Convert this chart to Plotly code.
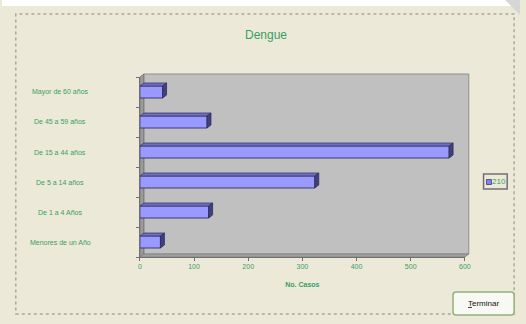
import plotly.graph_objects as go

# Dengue cases by age group (bottom to top)
categories = ["Menores de un Año", "De 1 a 4 Años", "De 5 a 14 años",
              "De 15 a 44 años", "De 45 a 59 años", "Mayor de 60 años"]
cases = [38, 127, 323, 571, 124, 42]
series_name = "210"
x_ticks = [0, 100, 200, 300, 400, 500, 600]

W, H = 526, 324
GREEN = "#3a9e64"
BEIGE = "#ECE9D8"

# plot area in pixels
PL, PR, PT, PB = 140, 470, 77, 257
DX, DY = 4, 3  # depth offset for the 3D look


def px(x):
    return x / W


def py(y):
    return 1 - y / H


x_range = [0, 600]
y_range = [-0.5, 5.5]
dxu = DX * (x_range[1] - x_range[0]) / (PR - PL)
dyu = DY * (y_range[1] - y_range[0]) / (PB - PT)
half = 0.2

fig = go.Figure()
fig.add_trace(go.Bar(
    x=cases, y=categories, orientation="h", width=2 * half,
    marker=dict(color="#9999FF", line=dict(color="#3b3b6e", width=1)),
    name=series_name, showlegend=False, hoverinfo="x+y",
))

shapes = []
# top white strip and corner of the window
shapes.append(dict(type="rect", xref="paper", yref="paper", x0=0, x1=1,
                   y0=py(6), y1=1, fillcolor="white", line_width=0, layer="below"))
shapes.append(dict(type="path", xref="paper", yref="paper",
                   path=f"M {px(511)},{py(0)} L {px(526)},{py(0)} L {px(526)},{py(15)} Z",
                   fillcolor="#d6d6d6", line_width=0, layer="below"))
# dotted frame
shapes.append(dict(type="rect", xref="paper", yref="paper", x0=px(14), x1=px(520),
                   y0=py(314), y1=py(14), line=dict(color="#a8a8a0", width=1.5, dash="dot"),
                   layer="below"))
# back wall, side wall and floor
shapes.append(dict(type="rect", xref="paper", yref="paper", x0=px(PL + DX), x1=px(PR + DX),
                   y0=py(PB - DY), y1=py(PT - DY), fillcolor="#c0c0c0",
                   line=dict(color="#909090", width=1), layer="below"))
shapes.append(dict(type="path", xref="paper", yref="paper",
                   path=(f"M {px(PL)},{py(PT)} L {px(PL + DX)},{py(PT - DY)} "
                         f"L {px(PL + DX)},{py(PB - DY)} L {px(PL)},{py(PB)} Z"),
                   fillcolor="#9a9a9a", line=dict(color="#707070", width=0.8), layer="below"))
shapes.append(dict(type="path", xref="paper", yref="paper",
                   path=(f"M {px(PL)},{py(PB)} L {px(PL + DX)},{py(PB - DY)} "
                         f"L {px(PR + DX)},{py(PB - DY)} L {px(PR)},{py(PB)} Z"),
                   fillcolor="#a0a0a0", line=dict(color="#808080", width=0.8), layer="below"))

# 3D faces of each bar
for i, v in enumerate(cases):
    top = (f"M 0,{i + half} L {v},{i + half} L {v + dxu},{i + half + dyu} "
           f"L {dxu},{i + half + dyu} Z")
    side = (f"M {v},{i - half} L {v},{i + half} L {v + dxu},{i + half + dyu} "
            f"L {v + dxu},{i - half + dyu} Z")
    shapes.append(dict(type="path", xref="x", yref="y", path=top,
                       fillcolor="#6e6ec4", line=dict(color="#3b3b6e", width=0.8)))
    shapes.append(dict(type="path", xref="x", yref="y", path=side,
                       fillcolor="#40407e", line=dict(color="#2e2e5a", width=0.8)))

# legend box
shapes.append(dict(type="rect", xref="paper", yref="paper", x0=px(489), x1=px(513),
                   y0=py(189), y1=py(174), line=dict(color="#707070", width=1.5)))
shapes.append(dict(type="rect", xref="paper", yref="paper", x0=px(492), x1=px(497),
                   y0=py(184.5), y1=py(179.5), fillcolor="#8080ff",
                   line=dict(color="#3b3b6e", width=0.8)))

# "Terminar" button
bx0, bx1, by0, by1, r = 458, 520, 292, 315, 3
btn = (f"M {px(bx0 + r)},{py(by0)} L {px(bx1 - r)},{py(by0)} "
       f"Q {px(bx1)},{py(by0)} {px(bx1)},{py(by0 + r)} L {px(bx1)},{py(by1 - r)} "
       f"Q {px(bx1)},{py(by1)} {px(bx1 - r)},{py(by1)} L {px(bx0 + r)},{py(by1)} "
       f"Q {px(bx0)},{py(by1)} {px(bx0)},{py(by1 - r)} L {px(bx0)},{py(by0 + r)} "
       f"Q {px(bx0)},{py(by0)} {px(bx0 + r)},{py(by0)} Z")
shapes.append(dict(type="path", xref="paper", yref="paper", path=btn,
                   fillcolor="#f9f9f4", line=dict(color="#93b07a", width=1.5)))

annotations = []
for c in categories:
    annotations.append(dict(x=px(59), y=c, xref="paper", yref="y", text=c,
                            showarrow=False, xanchor="center", yanchor="middle",
                            font=dict(family="Arial, Liberation Sans", size=7, color=GREEN)))
annotations.append(dict(x=px(505), y=py(181.5), xref="paper", yref="paper",
                        text=series_name, showarrow=False, xanchor="center", yanchor="middle",
                        font=dict(family="Arial, Liberation Sans", size=8, color=GREEN)))
annotations.append(dict(x=px(489), y=py(303.5), xref="paper", yref="paper",
                        text="<u>T</u>erminar", showarrow=False, xanchor="center",
                        yanchor="middle",
                        font=dict(family="Arial, Liberation Sans", size=8, color="#111111")))

fig.update_layout(
    width=W, height=H, margin=dict(l=0, r=0, t=0, b=0),
    paper_bgcolor=BEIGE, plot_bgcolor="rgba(0,0,0,0)",
    title=dict(text="Dengue", x=px(266), y=py(35), xanchor="center", yanchor="middle",
               font=dict(family="Arial, Liberation Sans", size=12, color=GREEN)),
    xaxis=dict(domain=[px(PL), px(PR)], range=x_range, tickvals=x_ticks,
               showgrid=False, zeroline=False, showline=True, linecolor="#707070",
               linewidth=1, ticks="outside", ticklen=3, tickcolor="#707070",
               tickfont=dict(family="Arial, Liberation Sans", size=7, color=GREEN),
               title=dict(text="<b>No. Casos</b>", standoff=12,
                          font=dict(family="Arial, Liberation Sans", size=7, color=GREEN))),
    yaxis=dict(domain=[py(PB), py(PT)], range=y_range, type="category",
               categoryorder="array", categoryarray=categories,
               showgrid=False, zeroline=False, showline=True, linecolor="#707070",
               linewidth=1, ticks="outside", ticklen=3, tickcolor="#707070",
               tickson="boundaries", showticklabels=False),
    shapes=shapes, annotations=annotations, showlegend=False,
)

fig.write_html("out.html")
